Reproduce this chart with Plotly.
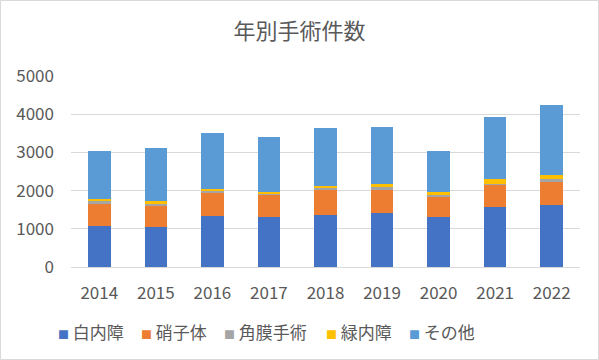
import plotly.graph_objects as go

years = ["2014", "2015", "2016", "2017", "2018", "2019", "2020", "2021", "2022"]
cataract = [1078, 1035, 1348, 1322, 1365, 1409, 1304, 1574, 1617]
vitreous = [592, 565, 582, 574, 644, 617, 522, 591, 600]
cornea = [52, 60, 61, 34, 61, 70, 61, 18, 79]
glaucoma = [61, 79, 44, 27, 60, 87, 70, 121, 113]
other = [1243, 1365, 1469, 1443, 1496, 1469, 1069, 1626, 1826]

series = [
    ("白内障", cataract, "#4472C4"),
    ("硝子体", vitreous, "#ED7D31"),
    ("角膜手術", cornea, "#A5A5A5"),
    ("緑内障", glaucoma, "#FFC000"),
    ("その他", other, "#5B9BD5"),
]

font = "Noto Sans CJK JP, Noto Sans, sans-serif"
W, H = 599, 360
L, R, T, B = 71, 19, 76, 93
pw, ph = W - L - R, H - T - B

fig = go.Figure()
for name, vals, color in series:
    fig.add_trace(go.Bar(x=years, y=vals, name=name, showlegend=False,
                         marker=dict(color=color, line=dict(width=0))))

# legend drawn as text annotations (square glyph + label)
legend_left_px = [56, 139, 222, 324, 407]
annotations = []
for (name, vals, color), px in zip(series, legend_left_px):
    annotations.append(dict(
        text=f'<span style="color:{color};font-size:11px">■</span> {name}',
        xref="paper", yref="paper", x=(px - L) / pw, y=-(331 - T - ph) / ph,
        xanchor="left", yanchor="middle", showarrow=False,
        font=dict(size=17, color="#595959", family=font)))

fig.update_layout(
    barmode="stack",
    bargap=0.6,
    width=W,
    height=H,
    paper_bgcolor="white",
    plot_bgcolor="white",
    margin=dict(l=L, r=R, t=T, b=B, autoexpand=False),
    font=dict(family=font, color="#595959", size=17),
    title=dict(text="年別手術件数", x=0.5, xanchor="center", y=1 - 31 / H, yanchor="middle",
               yref="container", font=dict(size=22, color="#595959", family=font)),
    showlegend=False,
    annotations=annotations,
    xaxis=dict(showgrid=False, showline=False, ticks="", ticklabelstandoff=14, automargin=False,
               tickfont=dict(size=17, color="#595959")),
    yaxis=dict(range=[0, 5000], dtick=1000, showgrid=True, gridcolor="#D9D9D9", gridwidth=1,
               zeroline=True, zerolinecolor="#D9D9D9", zerolinewidth=1, showline=False,
               ticks="", ticklabelstandoff=16, automargin=False,
               tickfont=dict(size=17, color="#595959"), tickformat="d"),
    shapes=[dict(type="rect", xref="paper", yref="paper",
                 x0=-(L - 0.5) / pw, x1=(pw + R - 0.5) / pw, y0=-(B - 0.5) / ph, y1=(ph + T - 0.5) / ph,
                 line=dict(color="#D9D9D9", width=1), fillcolor="rgba(0,0,0,0)", layer="below")],
)

fig.write_html("out.html", config={"displayModeBar": False},
               post_script="document.body.style.margin='0';document.body.style.overflow='hidden';")
